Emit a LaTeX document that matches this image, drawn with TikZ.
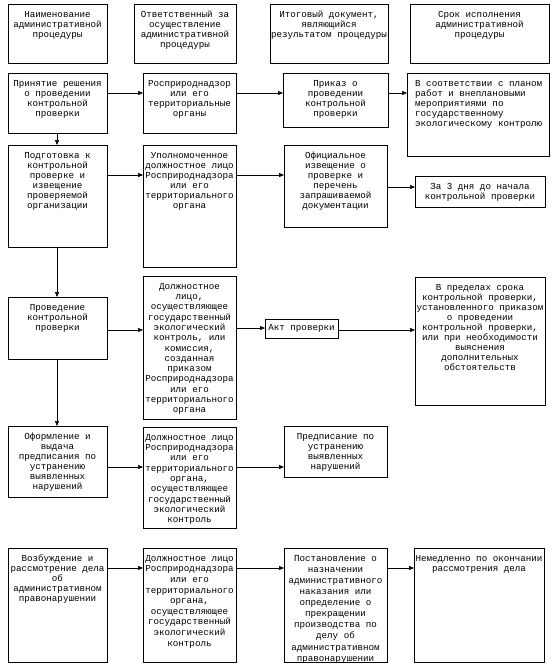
\documentclass[tikz,border=0pt]{standalone}
\usepackage{fontspec}
\setmainfont{Liberation Mono}
\usetikzlibrary{arrows.meta}
\tikzset{
  box/.style={draw=black, line width=0.9pt, inner sep=0pt, outer sep=0pt},
  txt/.style={align=center, inner sep=0pt, font=\fontsize{9.2}{10}\selectfont},
  txtl/.style={align=left, inner sep=0pt, font=\fontsize{9.2}{10}\selectfont},
  arr/.style={line width=0.6pt, -{Triangle[length=5pt,width=4pt]}},
}
% \bx{name}{x1}{y1}{x2}{y2}{text}{textstyle}
\newcommand\bx[7]{%
  \node[box, minimum width={(#4-#2)*1pt}, minimum height={(#5-#3)*1pt}] (#1) at ({(#2+#4)/2},{(#3+#5)/2}) {};
  \node[#7, anchor=north] (#1t) at ([yshift=-7pt]#1.north) {#6};
}
\begin{document}
\begin{tikzpicture}[x=1pt,y=-1pt]
\useasboundingbox (0,0) rectangle (559,666);
% header
\bx{h1}{8}{4}{107}{63}{Наименование\\административной\\процедуры}{txt}
\bx{h2}{134}{4}{236}{63}{Ответственный за\\осуществление\\административной\\процедуры}{txt}
\bx{h3}{270}{4}{388}{63}{Итоговый документ,\\являющийся\\результатом процедуры}{txt}
\bx{h4}{410}{4}{549}{63}{Срок исполнения\\административной\\процедуры}{txt}
% row 1
\bx{b1}{8}{73}{107}{133}{Принятие решения\\о проведении\\контрольной\\проверки}{txt}
\bx{b2}{143}{73}{236}{133}{Росприроднадзор\\или его\\территориальные\\органы}{txt}
\bx{b3}{283}{73}{388}{127}{Приказ о\\проведении\\контрольной\\проверки}{txt}
\node[box, minimum width=142pt, minimum height=83pt] (b4) at (478,114.5) {};
\node[txtl, anchor=north west] (b4t) at ([xshift=8pt,yshift=-7pt]b4.north west) {В соответствии с планом\\работ и внеплановыми\\мероприятиями по\\государственному\\экологическому контролю};
% row 2
\bx{c1}{8}{145}{107}{247}{Подготовка к\\контрольной\\проверке и\\извещение\\проверяемой\\организации}{txt}
\bx{c2}{143}{145}{236}{267}{Уполномоченное\\должностное лицо\\Росприроднадзора\\или его\\территориального\\органа}{txt}
\bx{c3}{284}{145}{387}{227}{Официальное\\извещение о\\проверке и\\перечень\\запрашиваемой\\документации}{txt}
\bx{c4}{415}{176}{545}{207}{За 3 дня до начала\\контрольной проверки}{txt}
% row 3
\bx{d1}{8}{297}{107}{359}{Проведение\\контрольной\\проверки}{txt}
\bx{d2}{143}{276}{236}{419}{Должностное\\лицо,\\осуществляющее\\государственный\\экологический\\контроль, или\\комиссия,\\созданная\\приказом\\Росприроднадзора\\или его\\территориального\\органа}{txt,font=\fontsize{9.2}{10.3}\selectfont}
\node[box, minimum width=73pt, minimum height=19pt] (d3) at (301.5,328.5) {};
\node[txt] (d3t) at (d3.center) {Акт проверки};
\bx{d4}{415}{277}{545}{405}{В пределах срока\\контрольной проверки,\\установленного приказом\\о проведении\\контрольной проверки,\\или при необходимости\\выяснения\\дополнительных\\обстоятельств}{txt}
% row 4
\bx{e1}{8}{426}{107}{497}{Оформление и\\выдача\\предписания по\\устранению\\выявленных\\нарушений}{txt}
\bx{e2}{143}{427}{236}{528}{Должностное лицо\\Росприроднадзора\\или его\\территориального\\органа,\\осуществляющее\\государственный\\экологический\\контроль}{txt,font=\fontsize{9.2}{10.3}\selectfont}
\bx{e3}{284}{426}{387}{477}{Предписание по\\устранению\\выявленных\\нарушений}{txt}
% row 5
\bx{f1}{8}{548}{107}{662}{Возбуждение и\\рассмотрение дела\\об\\административном\\правонарушении}{txt}
\bx{f2}{143}{548}{236}{662}{Должностное лицо\\Росприроднадзора\\или его\\территориального\\органа,\\осуществляющее\\государственный\\экологический\\контроль}{txt,font=\fontsize{9.2}{10.6}\selectfont}
\bx{f3}{284}{548}{387}{662}{Постановление о\\назначении\\административного\\наказания или\\определение о\\прекращении\\производства по\\делу об\\административном\\правонарушении}{txt,font=\fontsize{9.2}{11.1}\selectfont}
\bx{f4}{414}{548}{544}{662}{Немедленно по окончании\\рассмотрения дела}{txt}
% horizontal arrows
\draw[arr] (b1.east |- 0,93) -- (b2.west |- 0,93);
\draw[arr] (b2.east |- 0,93) -- (b3.west |- 0,93);
\draw[arr] (b3.east |- 0,93) -- (b4.west |- 0,93);
\draw[arr] (c1.east |- 0,175) -- (c2.west |- 0,175);
\draw[arr] (c2.east |- 0,175) -- (c3.west |- 0,175);
\draw[arr] (c3.east |- 0,187) -- (c4.west |- 0,187);
\draw[arr] (d1.east |- 0,330) -- (d2.west |- 0,330);
\draw[arr] (d2.east |- 0,328) -- (d3.west |- 0,328);
\draw[arr] (d3.east |- 0,330) -- (d4.west |- 0,330);
\draw[arr] (e1.east |- 0,467) -- (e2.west |- 0,467);
\draw[arr] (e2.east |- 0,467) -- (e3.west |- 0,467);
\draw[arr] (f1.east |- 0,568) -- (f2.west |- 0,568);
\draw[arr] (f2.east |- 0,568) -- (f3.west |- 0,568);
\draw[arr] (f3.east |- 0,568) -- (f4.west |- 0,568);
% vertical arrows
\draw[arr] (b1.south -| 57,0) -- (c1.north -| 57,0);
\draw[arr] (c1.south -| 57,0) -- (d1.north -| 57,0);
\draw[arr] (d1.south -| 57,0) -- (e1.north -| 57,0);
\end{tikzpicture}
\end{document}
